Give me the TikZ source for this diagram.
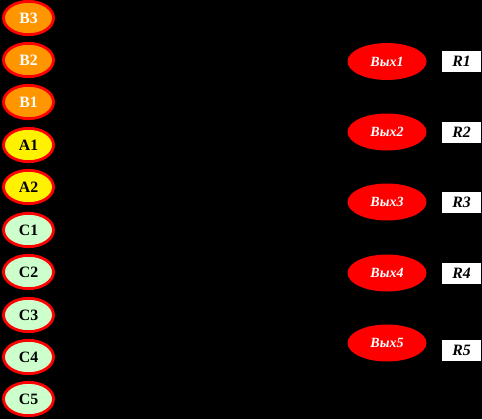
\documentclass[tikz,border=0pt]{standalone}
\usepackage{fontspec}
\setmainfont{Liberation Serif}
\usepackage{tikz}
\usetikzlibrary{shapes}
\definecolor{orng}{RGB}{255,150,0}
\definecolor{lgreen}{RGB}{204,255,204}
\tikzstyle{inp} = [ellipse, draw=red, line width=2.4pt, minimum width=1.5cm,
	minimum height=1.0cm, inner sep=0pt, font=\fontsize{13.5}{15}\selectfont\bfseries]
\tikzstyle{outp} = [ellipse, fill=red, draw=none, minimum width=2.37cm,
	minimum height=1.11cm, inner sep=0pt, text=white,
	font=\fontsize{12}{14}\selectfont\bfseries\itshape]
\tikzstyle{res} = [rectangle, fill=white, draw=none, minimum width=1.17cm,
	minimum height=0.63cm, inner sep=0pt,
	font=\fontsize{13.5}{15}\selectfont\bfseries\itshape]

\begin{document}
\begin{tikzpicture}[x=0.03cm, y=-0.03cm]
				\fill[black] (0,0) rectangle (482,419);
				\useasboundingbox (0,0) rectangle (482,419);
				
				% inputs
				\foreach \n/\t/\y/\f/\c in {b3/B3/18/orng/white, b2/B2/60/orng/white,
					b1/B1/102/orng/white, a1/A1/145/yellow/black, a2/A2/187/yellow/black,
					c1/C1/230/lgreen/black, c2/C2/272/lgreen/black, c3/C3/315/lgreen/black,
					c4/C4/357/lgreen/black, c5/C5/399/lgreen/black}{
					\node [inp, fill=\f, text=\c] (\n) at (28.5,\y) {\t};
				}
				
				% outputs
				\foreach \i/\y in {1/61.5,2/132,3/202,4/273,5/343}{
					\node [outp] (out\i) at (387,\y) {Вых\i};
				}
				
				\node [res] (r1) at (461.5,61.5) {R1};
				\node [res] (r2) at (461.5,132) {R2};
				\node [res] (r3) at (461.5,202) {R3};
				\node [res] (r4) at (461.5,273.5) {R4};
				\node [res] (r5) at (461.5,350.5) {R5};
				
				\end{tikzpicture}
\end{document}
